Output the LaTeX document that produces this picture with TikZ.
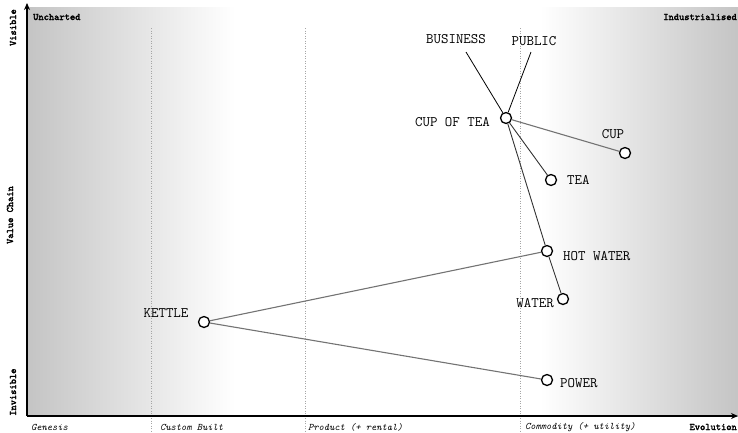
\documentclass[tikz,border=0pt]{standalone}
\usepackage{fontspec}
\newfontfamily\axbold{Latin Modern Mono}[FakeBold=2.5]
\usetikzlibrary{arrows.meta}
\tikzset{
  comp/.style={circle,draw=black,fill=white,line width=1.3pt,minimum size=11pt,inner sep=0pt},
  clabel/.style={font=\ttfamily\fontsize{14.5}{15}\selectfont,inner sep=1pt},
  axlabel/.style={font=\axbold\fontsize{10}{10}\selectfont,inner sep=0pt},
  stagelabel/.style={font=\ttfamily\itshape\fontsize{10}{10}\selectfont,inner sep=0pt,anchor=west},
  stageline/.style={draw=black!35,dotted,line width=0.5pt},
  graylink/.style={draw=black!55,line width=1.1pt},
  darklink/.style={draw=black!80,line width=0.9pt},
  userlink/.style={draw=black,line width=0.8pt},
  axis/.style={draw=black,line width=1.8pt,-{Stealth[length=7pt,width=6pt]}}
}
\begin{document}
\begin{tikzpicture}[x=1pt,y=-1pt]
\useasboundingbox (0,0) rectangle (738,432);
% background shading
\shade[left color=black!23,right color=white] (28,7) rectangle (235,416);
\shade[left color=white,right color=black!23] (540,7) rectangle (738,416);
% stage lines
\draw[stageline] (151,28) -- (151,432);
\draw[stageline] (305,28) -- (305,432);
\draw[stageline] (520,28) -- (520,432);
% axes
\coordinate (origin) at (27,416);
\coordinate (ytop) at (27,3);
\coordinate (xend) at (738,416);
\draw[axis] (origin) -- (ytop);
\draw[axis] (origin) -- (xend);
% axis labels
\node[axlabel,anchor=west] (unch) at (33,17) {Uncharted};
\node[axlabel,anchor=east] (ind) at (737,17) {Industrialised};
\node[axlabel,anchor=east] (evo) at (737,427) {Evolution};
\node[axlabel,rotate=90,anchor=east] (vis) at (13,9) {Visible};
\node[axlabel,rotate=90] (vchain) at (10,215) {Value Chain};
\node[axlabel,rotate=90,anchor=west] (invis) at (13,416) {Invisible};
\node[stagelabel] (gen) at (31,427) {Genesis};
\node[stagelabel] (cust) at (160,427) {Custom Built};
\node[stagelabel] (prod) at (308,427) {Product (+ rental)};
\node[stagelabel] (comm) at (525,427) {Commodity (+ utility)};
% users
\node[clabel] (business) at (456,39) {BUSINESS};
\node[clabel] (public) at (534,41) {PUBLIC};
\coordinate (busend) at (466,52);
\coordinate (pubend) at (531,52);
% components
\node[comp] (cupoftea) at (506,118) {};
\node[comp] (cup) at (625,153) {};
\node[comp] (tea) at (551,180) {};
\node[comp] (hotwater) at (547,251) {};
\node[comp] (water) at (563,299) {};
\node[comp] (kettle) at (204,322) {};
\node[comp] (power) at (547,380) {};
% labels
\node[clabel,anchor=east] (lcupoftea) at (491,122) {CUP OF TEA};
\node[clabel] (lcup) at (613,134) {CUP};
\node[clabel,anchor=west] (ltea) at (566,180) {TEA};
\node[clabel,anchor=west] (lhotwater) at (562,256) {HOT WATER};
\node[clabel,anchor=east] (lwater) at (555,303) {WATER};
\node[clabel] (lkettle) at (166,313) {KETTLE};
\node[clabel,anchor=west] (lpower) at (559,383) {POWER};
% links
\draw[userlink] (busend) -- (cupoftea);
\draw[userlink] (pubend) -- (cupoftea);
\draw[graylink] (cupoftea) -- (cup);
\draw[darklink] (cupoftea) -- (tea);
\draw[darklink] (cupoftea) -- (hotwater);
\draw[darklink] (hotwater) -- (water);
\draw[graylink] (kettle) -- (hotwater);
\draw[graylink] (kettle) -- (power);
\end{tikzpicture}
\end{document}
